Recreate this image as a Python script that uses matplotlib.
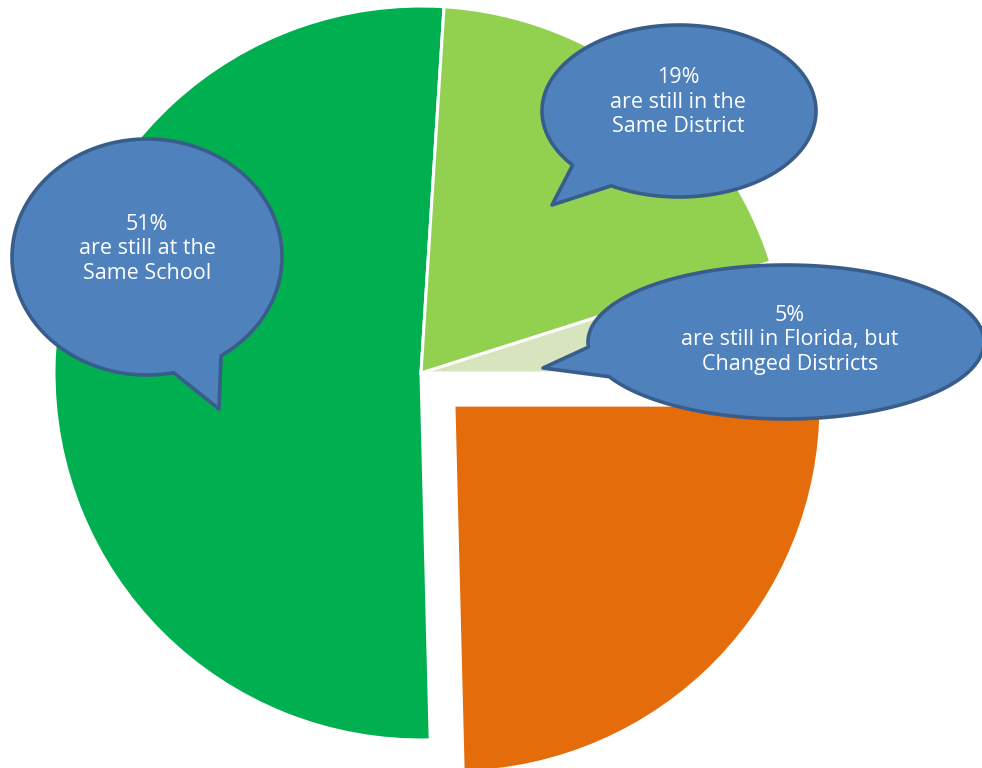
import numpy as np
import matplotlib.pyplot as plt
from matplotlib.patches import Polygon

# 데이터 (반시계 방향, 위쪽에서 시작)
shares = [51.4, 24.6, 4.9, 19.1]
slice_colors = ['#00B050', '#E46C0A', '#D7E4BD', '#92D050']
explode = [0, 46, 0, 0]   # 데이터 단위(픽셀) 오프셋

# 말풍선 텍스트
bubble_texts = ['51%\nare still at the\nSame School',
                '19%\nare still in the\nSame District',
                '5%\nare still in Florida, but\nChanged Districts']

H = 768

def bubble(ax, cx, cy, a, b, base1, tip, base2, **kw):
    # 타원 + 꼬리 모양 말풍선 (픽셀 좌표, y는 아래로)
    cy = H - cy
    p1 = np.array([base1[0], H - base1[1]])
    p2 = np.array([base2[0], H - base2[1]])
    tp = np.array([tip[0], H - tip[1]])
    t1 = np.arctan2((p1[1] - cy) / b, (p1[0] - cx) / a)
    t2 = np.arctan2((p2[1] - cy) / b, (p2[0] - cx) / a)
    # t2 -> 타원 둘레 -> t1 (꼬리 구간 제외)
    start, end = t2, t1
    if start > end:
        end += 2 * np.pi
    if end - start < np.pi:
        start, end = t1, t2
        if start > end:
            end += 2 * np.pi
        ts = np.linspace(start, end, 200)
        ts = ts[::-1]
    else:
        ts = np.linspace(start, end, 200)
    pts = np.column_stack([cx + a * np.cos(ts), cy + b * np.sin(ts)])
    pts = np.vstack([pts, tp])
    ax.add_patch(Polygon(pts, closed=True, **kw))

fig = plt.figure(figsize=(9.82, 7.68), dpi=100)
ax = fig.add_axes([0, 0, 1, 1])

ax.pie(shares, colors=slice_colors, explode=explode, startangle=86.4,
       counterclock=True, center=(421, H - 373), radius=367, frame=True,
       wedgeprops=dict(edgecolor='white', linewidth=2.2))

style = dict(facecolor='#4F81BD', edgecolor='#385D8A', linewidth=2.6,
             joinstyle='round', zorder=5)
bubble(ax, 147, 257, 135, 118, (219, 353), (219, 409), (173, 370), **style)
bubble(ax, 679, 111, 137, 86, (573, 165), (552, 205), (612, 185), **style)
bubble(ax, 786, 342, 198, 77, (592, 347), (543, 368), (608, 377), **style)

txt = dict(color='white', fontsize=15.5, ha='center', va='center',
           family='Open Sans', linespacing=1.22, zorder=6)
ax.text(147, H - 249, bubble_texts[0], **txt)
ax.text(678, H - 102, bubble_texts[1], **txt)
ax.text(790, H - 340, bubble_texts[2], **txt)

ax.set_xlim(0, 982)
ax.set_ylim(0, H)
ax.set_aspect('equal')
ax.axis('off')

fig.savefig('out.png', dpi=100)
